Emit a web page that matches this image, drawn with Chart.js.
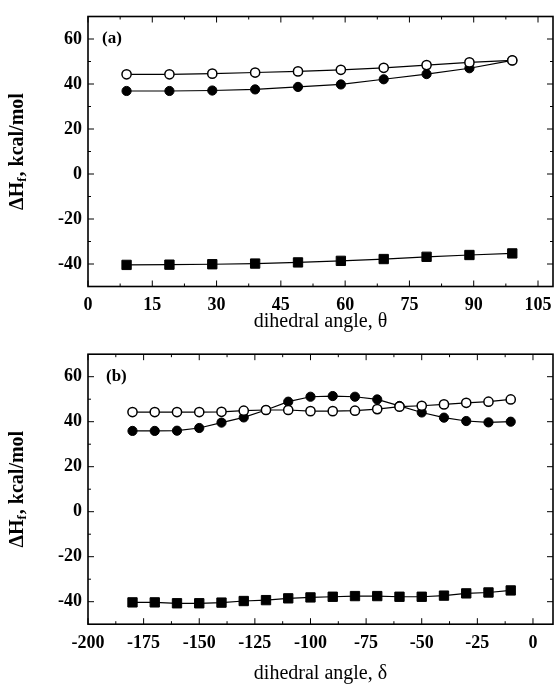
<!DOCTYPE html>
<html>
<head>
<meta charset="utf-8">
<script src="https://cdn.jsdelivr.net/npm/chart.js@4"></script>
<style>
  html, body { margin: 0; padding: 0; background: #fff; }
  #wrap { position: relative; width: 555px; height: 690px; overflow: hidden; }
  .panel { position: absolute; left: 0; width: 555px; }
</style>
</head>
<body>
<div id="wrap">
  <div class="panel" style="top:0;height:345px"><canvas id="chartA" width="555" height="345"></canvas></div>
  <div class="panel" style="top:338px;height:352px"><canvas id="chartB" width="555" height="352"></canvas></div>
</div>
<script>
/* panel (a): dihedral angle theta */
const thetaA = [9, 19, 29, 39, 49, 59, 69, 79, 89, 99];
const openA = [44.3, 44.3, 44.6, 45.1, 45.6, 46.3, 47.2, 48.4, 49.6, 50.5];
const filledA = [36.9, 36.9, 37.1, 37.6, 38.7, 39.8, 42.1, 44.4, 47.0, 50.5];
const squareA = [-40.4, -40.3, -40.1, -39.8, -39.3, -38.6, -37.8, -36.8, -36.0, -35.3];

/* panel (b): dihedral angle delta */
const deltaB = [-180, -170, -160, -150, -140, -130, -120, -110, -100, -90, -80, -70, -60, -50, -40, -30, -20, -10];
const openB = [44.3, 44.3, 44.3, 44.3, 44.4, 44.9, 45.2, 45.2, 44.7, 44.7, 44.9, 45.6, 46.7, 47.1, 47.7, 48.4, 48.9, 49.9];
const filledB = [35.9, 35.9, 36.0, 37.2, 39.6, 41.9, 45.2, 48.9, 51.1, 51.4, 51.1, 49.9, 47.0, 44.1, 41.8, 40.3, 39.7, 40.0];
const squareB = [-40.3, -40.3, -40.7, -40.7, -40.4, -39.7, -39.3, -38.5, -38.1, -37.8, -37.5, -37.5, -37.8, -37.8, -37.3, -36.3, -35.9, -35.0];

/* tick labels */
const xTicksA = [0, 15, 30, 45, 60, 75, 90, 105];
const xMinorA = [7.5, 22.5, 37.5, 52.5, 67.5, 82.5, 97.5];
const xTicksB = [-200, -175, -150, -125, -100, -75, -50, -25, 0];
const xMinorB = [-187.5, -162.5, -137.5, -112.5, -87.5, -62.5, -37.5, -12.5];
const yTicks = [-40, -20, 0, 20, 40, 60];
const yMinor = [-30, -10, 10, 30, 50];

const SERIF = "'Liberation Serif', 'DejaVu Serif', serif";

function pairs(xs, ys) {
  return xs.map((x, i) => ({ x, y: ys[i] }));
}

/* box around the plot with inward ticks on all four sides */
const frameTicks = {
  id: "frameTicks",
  afterDraw(chart, args, opts) {
    const { ctx, chartArea: a } = chart;
    const x = chart.scales.x;
    const y = chart.scales.y;
    ctx.save();
    ctx.strokeStyle = "#000";
    ctx.lineWidth = 1;
    ctx.beginPath();
    const tickX = (v, len) => {
      const p = x.getPixelForValue(v);
      ctx.moveTo(p, a.bottom); ctx.lineTo(p, a.bottom - len);
      ctx.moveTo(p, a.top); ctx.lineTo(p, a.top + len);
    };
    const tickY = (v, len) => {
      const p = y.getPixelForValue(v);
      ctx.moveTo(a.left, p); ctx.lineTo(a.left + len, p);
      ctx.moveTo(a.right, p); ctx.lineTo(a.right - len, p);
    };
    opts.xMajor.forEach(v => tickX(v, 6));
    opts.xMinor.forEach(v => tickX(v, 3));
    yTicks.forEach(v => tickY(v, 6));
    yMinor.forEach(v => tickY(v, 3));
    ctx.stroke();
    ctx.lineWidth = 1.6;
    ctx.strokeRect(a.left, a.top, a.right - a.left, a.bottom - a.top);
    ctx.restore();
  }
};

/* axis titles and the panel letter */
const axisText = {
  id: "axisText",
  afterDraw(chart, args, opts) {
    const { ctx, chartArea: a } = chart;
    const y = chart.scales.y;
    ctx.save();
    ctx.fillStyle = "#000";
    ctx.textBaseline = "middle";

    /* panel letter */
    ctx.font = "bold 17px " + SERIF;
    ctx.textAlign = "left";
    ctx.fillText(opts.letter, opts.letterX, y.getPixelForValue(60));

    /* x title */
    ctx.font = "20px " + SERIF;
    ctx.textAlign = "center";
    ctx.fillText(opts.xTitle, (a.left + a.right) / 2, opts.xTitleY);

    /* y title, with subscript f */
    const main = "bold 20px " + SERIF;
    const sub = "bold 13px " + SERIF;
    ctx.font = main;
    const w1 = ctx.measureText("\u0394H").width;
    const w3 = ctx.measureText(", kcal/mol").width;
    ctx.font = sub;
    const w2 = ctx.measureText("f").width + 1;
    const total = w1 + w2 + w3;
    ctx.translate(opts.yTitleX, (a.top + a.bottom) / 2);
    ctx.rotate(-Math.PI / 2);
    ctx.textAlign = "left";
    let px = -total / 2;
    ctx.font = main;
    ctx.fillText("\u0394H", px, 0);
    px += w1;
    ctx.font = sub;
    ctx.fillText("f", px, 5);
    px += w2;
    ctx.font = main;
    ctx.fillText(", kcal/mol", px, 0);
    ctx.restore();
  }
};

function makeDatasets(xs, open, filled, square) {
  const line = { borderColor: "#000", borderWidth: 1.2, tension: 0, fill: false };
  return [
    Object.assign({
      label: "open",
      data: pairs(xs, open),
      pointStyle: "circle",
      pointRadius: 4.6,
      pointBorderWidth: 1.5,
      pointBackgroundColor: "#fff",
      pointBorderColor: "#000"
    }, line),
    Object.assign({
      label: "filled",
      data: pairs(xs, filled),
      pointStyle: "circle",
      pointRadius: 4.6,
      pointBorderWidth: 1,
      pointBackgroundColor: "#000",
      pointBorderColor: "#000"
    }, line),
    Object.assign({
      label: "square",
      data: pairs(xs, square),
      pointStyle: "rect",
      pointRadius: 6.6,
      pointBorderWidth: 1,
      pointBackgroundColor: "#000",
      pointBorderColor: "#000"
    }, line)
  ];
}

function makeChart(id, cfg) {
  const ctx = document.getElementById(id).getContext("2d");
  return new Chart(ctx, {
    type: "line",
    data: { datasets: makeDatasets(cfg.xs, cfg.open, cfg.filled, cfg.square) },
    options: {
      responsive: false,
      animation: false,
      events: [],
      layout: { autoPadding: false, padding: { top: cfg.top, right: 2, left: 0, bottom: 0 } },
      plugins: {
        legend: { display: false },
        tooltip: { enabled: false },
        frameTicks: { xMajor: cfg.xTicks, xMinor: cfg.xMinor },
        axisText: {
          letter: cfg.letter,
          letterX: cfg.letterX,
          xTitle: cfg.xTitle,
          xTitleY: cfg.xTitleY,
          yTitleX: 18
        }
      },
      scales: {
        x: {
          type: "linear",
          min: cfg.xMin,
          max: cfg.xMax,
          grid: { display: false, drawTicks: false },
          border: { display: false },
          afterBuildTicks: s => { s.ticks = cfg.xTicks.map(v => ({ value: v })); },
          afterFit: s => {
            s.height = cfg.xAxisH;
            s.paddingLeft = 0;
            s.paddingRight = 0;
          },
          ticks: {
            padding: 8,
            maxRotation: 0,
            autoSkip: false,
            color: "#000",
            font: { family: SERIF, size: 18, weight: "bold" }
          }
        },
        y: {
          min: -50,
          max: 70,
          grid: { display: false, drawTicks: false },
          border: { display: false },
          afterBuildTicks: s => { s.ticks = yTicks.map(v => ({ value: v })); },
          afterFit: s => {
            s.width = 88;
            s.paddingTop = 0;
            s.paddingBottom = 0;
          },
          ticks: {
            padding: 6,
            color: "#000",
            font: { family: SERIF, size: 18, weight: "bold" }
          }
        }
      }
    },
    plugins: [frameTicks, axisText]
  });
}

makeChart("chartA", {
  xs: thetaA, open: openA, filled: filledA, square: squareA,
  xMin: 0, xMax: 108.5, xTicks: xTicksA, xMinor: xMinorA,
  top: 16.5, xAxisH: 58.5,
  letter: "(a)", letterX: 102,
  xTitle: "dihedral angle, \u03b8", xTitleY: 322
});

makeChart("chartB", {
  xs: deltaB, open: openB, filled: filledB, square: squareB,
  xMin: -200, xMax: 9, xTicks: xTicksB, xMinor: xMinorB,
  top: 16.2, xAxisH: 65.8,
  letter: "(b)", letterX: 106,
  xTitle: "dihedral angle, \u03b4", xTitleY: 336
});
</script>
</body>
</html>
